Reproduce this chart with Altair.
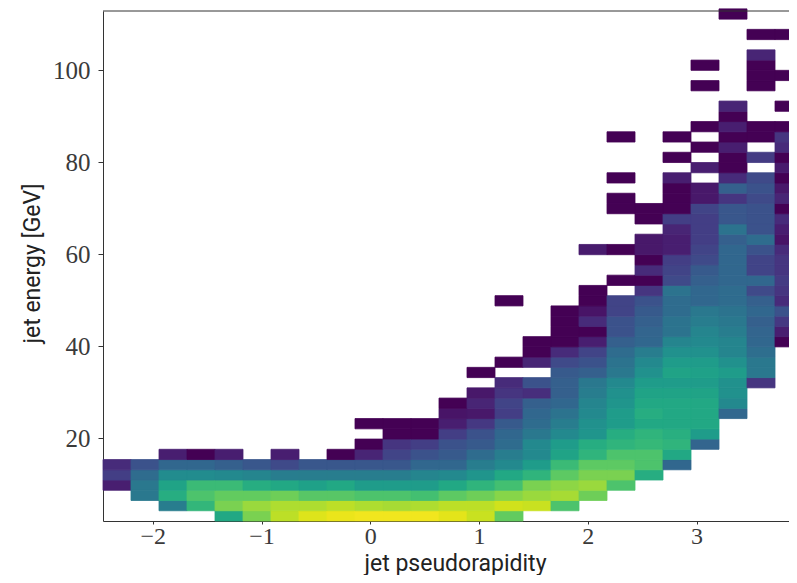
import altair as alt
import pandas as pd

N = None
# Heat values (colour position 0..1) per eta bin, listed from the lowest energy bin upward
c00 = [N, N, N, .08, .18, .12]
c01 = [N, N, .40, .40, .35, .25]
c02 = [N, .42, .62, .58, .48, .33, .08]
c03 = [N, .66, .72, .68, .48, .33, 0]
c04 = [.60, .80, .76, .68, .47, .30, .08]
c05 = [.80, .85, .76, .62, .45, .27]
c06 = [.90, .88, .78, .60, .42, .22, .08]
c07 = [.95, .88, .74, .57, .42, .27]
c08 = [.97, .90, .74, .60, .42, .27, 0]
c09 = [.98, .88, .72, .55, .42, .27, .10, 0, N, 0]
c10 = [.98, .87, .72, .55, .42, .27, .20, .15, 0, 0]
c11 = [.98, .88, .70, .55, .45, .33, .25, .18, 0, 0]
c12 = [.96, .90, .75, .60, .47, .33, .28, .25, .18, .08, .05, 0]
c13 = [.92, .90, .78, .65, .52, .42, .35, .28, .25, .16,
       .06, .10, .06, N, 0]
c14 = [.76, .93, .82, .70, .60, .47, .42, .35, .33, .28,
       .18, .20, .15, .12, N, 0, N, N, N, N,
       N, 0]
c15 = [N, .92, .85, .80, .65, .55, .47, .47, .40, .35,
       .33, .30, .13, .25, N, .10, 0, 0]
c16 = [N, .72, .87, .83, .75, .68, .58, .55, .47, .42,
       .38, .33, .30, .30, .28, .22, .12, 0, 0, 0,
       0]
c17 = [N, N, .78, .85, .80, .75, .65, .62, .52, .50,
       .47, .45, .42, .40, .30, .25, .20, .08, 0, .12,
       .05, 0, 0, N, N, N, .07]
c18 = [N, N, N, .72, .80, .75, .72, .65, .62, .55,
       .55, .52, .50, .47, .40, .38, .35, .30, .25, .25,
       .20, .20, N, 0, N, N, 0, N, N, N,
       0, 0, N, 0, N, N, N, 0]
c19 = [N, N, N, N, .62, .72, .72, .67, .65, .60,
       .62, .60, .58, .55, .50, .47, .42, .33, .32, .30,
       .28, .25, .15, 0, .12, 0, .06, .06, N, 0,
       0]
c20 = [N, N, N, N, N, .33, .60, .65, .63, .60,
       .60, .60, .58, .55, .58, .55, .50, .45, .38, .38,
       .35, .35, .38, .22, .20, .18, .08, .08, .10, .18,
       0, 0, 0, .08, N, 0, N, 0]
c21 = [N, N, N, N, N, N, N, .32, .55, .60,
       .60, .60, .58, .55, .57, .55, .50, .47, .45, .42,
       .40, .33, .33, .30, .28, .22, .20, .18, .18, .18,
       .20, .06, .06, N, .08, N, 0, N, 0, N,
       N, N, 0, N, 0]
c22 = [N, N, N, N, N, N, N, N, N, N,
       .33, .47, .50, .50, .55, .50, .45, .45, .42, .40,
       .38, .35, .35, .33, .33, .33, .33, .30, .38, .27,
       .27, .15, .30, .12, 0, 0, .08, 0, .08, 0,
       .10, N, N, N, N, N, N, N, N, 0]
c23 = [N, N, N, N, N, N, N, N, N, N,
       N, N, N, .15, .40, .40, .36, .33, .32, .30,
       .33, .30, .22, .33, .20, .20, .25, .35, .25, .25,
       .25, .22, .25, .22, N, .17, N, 0, 0, N,
       N, N, 0, 0, 0, .10, N, 0]
c24 = [N, N, N, N, N, N, N, N, N, N,
       N, N, N, N, N, N, N, 0, .08, .16,
       .25, .12, .15, .17, .15, .15, .12, .05, .08, .12,
       0, .10, .06, 0, .07, 0, .12, .15, 0, N,
       0, N, N, 0, N, N, N, 0]
columns = [c00, c01, c02, c03, c04, c05, c06, c07, c08, c09, c10, c11, c12,
           c13, c14, c15, c16, c17, c18, c19, c20, c21, c22, c23, c24]

eta_start, eta_step = -2.458, 0.2575
e_start, e_step = 1.96, 2.228
x_domain = [-2.458, 3.8506]
y_domain = [1.96, 112.9]
x_ticks = [-2, -1, 0, 1, 2, 3]
y_ticks = [20, 40, 60, 80, 100]

rows = []
for i, col in enumerate(columns):
    for k, v in enumerate(col):
        if v is None:
            continue
        rows.append(dict(x0=eta_start + i * eta_step, x1=eta_start + (i + 1) * eta_step,
                         y0=e_start + k * e_step, y1=e_start + (k + 1) * e_step, v=v))
df = pd.DataFrame(rows)

cs = alt.Scale(scheme="viridis", domain=[0, 1])
TEXT = "#222222"
LABEL = "#3a3a3a"
heat = alt.Chart(df).mark_rect(strokeWidth=0.8, clip=False).encode(
    x=alt.X("x0:Q", scale=alt.Scale(domain=x_domain, nice=False, zero=False),
            axis=alt.Axis(values=x_ticks, format="d", grid=False,
                          title="jet pseudorapidity", titleX=352, titleY=49,
                          titleBaseline="alphabetic",
                          titleFont="Roboto", titleFontSize=23, titleFontWeight="normal",
                          titleColor=TEXT, labelFont="Liberation Serif", labelFontSize=24,
                          labelColor=LABEL, labelPadding=0, tickSize=3, tickColor="#333333",
                          domainColor="#333333", labelFlush=False, labelOverlap=False)),
    x2="x1:Q",
    y=alt.Y("y0:Q", scale=alt.Scale(domain=y_domain, nice=False, zero=False),
            axis=alt.Axis(values=y_ticks, format="d", grid=False,
                          title="jet energy [GeV]", titleX=-64, titleY=252,
                          titleBaseline="alphabetic",
                          titleFont="Roboto", titleFontSize=23, titleFontWeight="normal",
                          titleColor=TEXT, labelFont="Liberation Serif", labelFontSize=25,
                          labelColor=LABEL, labelPadding=8, tickSize=5, tickColor="#333333",
                          domainColor="#333333", labelFlush=False, labelOverlap=False)),
    y2="y1:Q",
    color=alt.Color("v:Q", scale=cs, legend=None),
    stroke=alt.Stroke("v:Q", scale=cs, legend=None),
)
top = alt.Chart(pd.DataFrame({"a": [0]})).mark_rule(color="#333333", strokeWidth=1).encode(
    x=alt.value(0), x2=alt.value(686), y=alt.value(0))

chart = alt.layer(heat, top).properties(
    width=686, height=510,
    autosize=alt.AutoSizeParams(type="none"),
    padding={"left": 95, "top": 3, "right": 0, "bottom": 54},
).configure_view(stroke=None)

chart.save("out.html", embed_options={"renderer": "svg", "actions": False})
